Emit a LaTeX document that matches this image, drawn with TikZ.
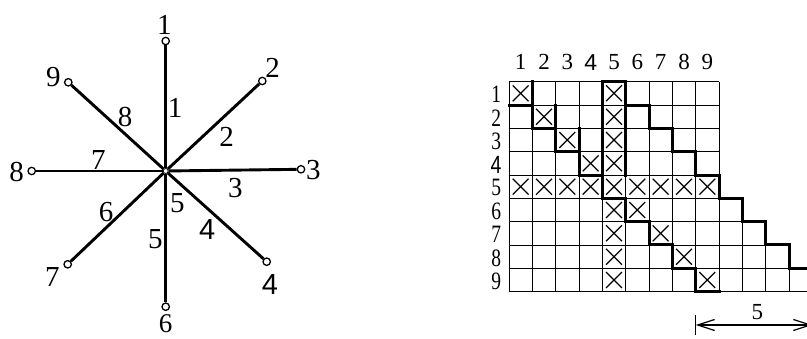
\documentclass[tikz,border=0pt]{standalone}
\usepackage{fontspec}
\setmainfont{Liberation Serif}
\newfontfamily\sansfour{Liberation Sans}
\usetikzlibrary{arrows.meta}
\begin{document}
\begin{tikzpicture}[x=1pt,y=-1pt,
  endpt/.style={circle,draw,fill=white,line width=1.3pt,inner sep=0pt,minimum size=7.4pt},
  hubpt/.style={circle,draw,fill=white,line width=0.8pt,inner sep=0pt,minimum size=5pt},
  spoke/.style={line width=2.9pt},
  biglab/.style={font=\fontsize{29}{29}\selectfont,inner sep=0pt},
  collab/.style={font=\fontsize{23}{23}\selectfont,inner sep=0pt},
  rowlab/.style={font=\fontsize{25}{25}\selectfont,inner sep=0pt,xscale=0.78},
  gridthin/.style={line width=0.9pt},
  gridthick/.style={line width=3pt,line cap=rect,line join=miter},
  xline/.style={line width=1.2pt},
  dimline/.style={line width=1.2pt}]
\useasboundingbox (0,0) rectangle (807,339);

% ---------- star graph ----------
\node[hubpt] (h) at (165.7,171) {};
\node[endpt] (e1) at (165.7,41) {};
\node[endpt] (e2) at (262.3,81) {};
\node[endpt] (e3) at (301,169.3) {};
\node[endpt] (e4) at (266.7,261.7) {};
\node[endpt] (e6) at (165.7,306.7) {};
\node[endpt] (e7) at (67.7,264.3) {};
\node[endpt] (e8) at (31.7,171) {};
\node[endpt] (e9) at (68.3,82.3) {};
\foreach \e in {e1,e2,e3,e4,e6,e7,e8,e9} \draw[spoke] (h) -- (\e);

\node[biglab] (n1) at (164.3,25) {1};
\node[biglab] (n2) at (272.7,68) {2};
\node[biglab] (n3) at (313.3,170) {3};
\node[biglab] (n4) at (270,285) {\sansfour 4};
\node[biglab,font=\fontsize{27}{27}\selectfont] (n6) at (165.7,323.5) {6};
\node[biglab] (n7) at (52.3,277) {7};
\node[biglab] (n8) at (16.7,171.7) {8};
\node[biglab] (n9) at (53.3,77.3) {9};

\node[biglab] (s1) at (175,108.3) {1};
\node[biglab] (s2) at (226.7,136.7) {2};
\node[biglab] (s3) at (235.3,188.3) {3};
\node[biglab] (s4) at (207.3,229.3) {\sansfour 4};
\node[biglab] (s5a) at (177.3,203.3) {5};
\node[biglab] (s5b) at (155.3,239.3) {5};
\node[biglab] (s6) at (106,211.7) {6};
\node[biglab] (s7) at (98.3,160) {7};
\node[biglab] (s8) at (125,116.7) {8};

% ---------- matrix ----------
\begin{scope}[shift={(509,81.67)},x=23.333pt,y=-23.333pt]
  % thin grid
  \foreach \r/\L in {0/9,1/9,2/9,3/9,4/9,5/10,6/11,7/12,8/13,9/13}
    \draw[gridthin] (0,\r) -- (\L,\r);
  \foreach \c in {0,...,9}
    \draw[gridthin] (\c,0) -- (\c,9);
  \foreach \c/\s in {10/5,11/6,12/7,13/8}
    \draw[gridthin] (\c,\s) -- (\c,9);
  % crosses
  \foreach \i/\j in {1/1,2/2,3/3,4/4,6/6,7/7,8/8,9/9,
                     1/5,2/5,3/5,4/5,6/5,7/5,8/5,9/5,
                     5/1,5/2,5/3,5/4,5/5,5/6,5/7,5/8,5/9}{
    \draw[xline] (\j-0.84,\i-0.84) -- (\j-0.16,\i-0.16);
    \draw[xline] (\j-0.84,\i-0.16) -- (\j-0.16,\i-0.84);
  }
  % thick outlines
  \draw[gridthick] (0,1)--(1,1)--(1,2)--(2,2)--(2,3)--(3,3)--(3,4)--(4,4)--(4,5)--(5,5)
     --(5,6)--(6,6)--(6,7)--(7,7)--(7,8)--(8,8)--(8,9)--(9,9);
  \draw[gridthick] (1,0)--(1,1);
  \draw[gridthick] (2,1)--(2,2);
  \draw[gridthick] (3,2)--(3,3);
  \draw[gridthick] (4,5)--(4,0)--(5,0)--(5,1)--(6,1)--(6,2)--(7,2)--(7,3)--(8,3)--(8,4)
     --(9,4)--(9,5)--(10,5)--(10,6)--(11,6)--(11,7)--(12,7)--(12,8)--(13,8)--(13,9);
  \draw[gridthick] (5,1)--(5,4);
  % labels
  \foreach \k in {1,2,3,5,6,7,8,9}{
    \node[collab] (c\k) at (\k-0.5,-0.83) {\k};
    \node[rowlab] (r\k) at (-0.55,\k-0.45) {\k};
  }
  \node[collab] (c4) at (3.5,-0.83) {\sansfour 4};
  \node[rowlab] (r4) at (-0.55,3.55) {\sansfour 4};
\end{scope}

% ---------- dimension ----------
\coordinate (aL) at (695.7,325);
\coordinate (aR) at (812.3,325);
\draw[dimline] (695.7,315) -- (695.7,335);
\draw[dimline] (812.3,315) -- (812.3,335);
\draw[dimline,{Straight Barb[length=17pt,width=11pt]}-{Straight Barb[length=17pt,width=11pt]}] (aL) -- (aR);
\node[collab] (d5) at (757.3,311.7) {5};
\end{tikzpicture}
\end{document}
